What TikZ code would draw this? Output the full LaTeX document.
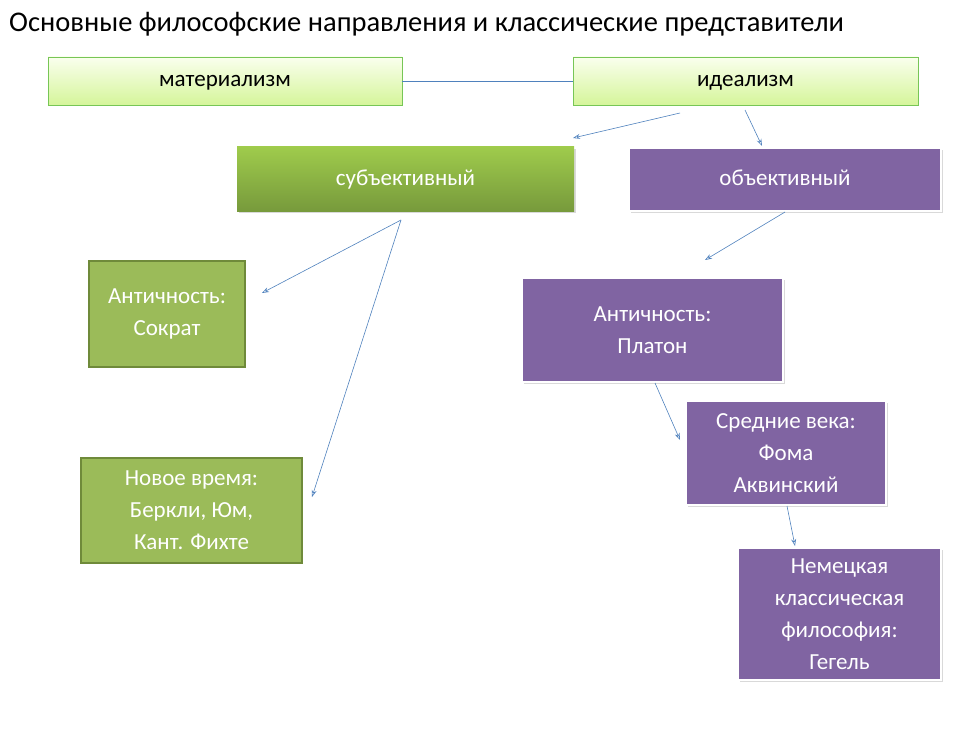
\documentclass[tikz,border=0pt]{standalone}
\usepackage{fontspec}
\setmainfont{Carlito}
\usetikzlibrary{arrows.meta,shadows}
\definecolor{lg1}{HTML}{FAFFEE}\definecolor{lg2}{HTML}{D5F59A}
\definecolor{sg1}{HTML}{9FCB4C}\definecolor{sg2}{HTML}{779A3C}
\definecolor{pur}{HTML}{8064A2}\definecolor{gr}{HTML}{9BBB59}
\definecolor{grb}{HTML}{6F8A3A}\definecolor{arr}{HTML}{4F81BD}
\newcommand{\dn}[1]{\raisebox{-6pt}[0pt][0pt]{#1}}
\begin{document}
\begin{tikzpicture}[x=1pt,y=-1pt,
 every node/.style={font=\fontsize{23}{32}\selectfont,align=center,inner sep=0},
 light/.style={top color=lg1,bottom color=lg2,draw=lg2!70!green!80!black,line width=0.5pt},
 sub/.style={top color=sg1,bottom color=sg2,text=white,drop shadow={shadow xshift=2pt,shadow yshift=-2pt,opacity=0.3}},
 pbox/.style={fill=pur,draw=white,line width=1.5pt,text=white,drop shadow={shadow xshift=2pt,shadow yshift=-2pt,opacity=0.3}},
 gbox/.style={fill=gr,draw=grb,line width=1.5pt,text=white},
 ar/.style={draw=arr,line width=0.6pt,-{Stealth[length=7pt,width=5pt,open]}}]
\useasboundingbox (0,0) rectangle (979,730);
\node[anchor=west,font=\fontsize{28.5}{32}\selectfont] (t) at (9,24) {Основные философские направления и классические представители};
\node[light,minimum width=354,minimum height=48] (m) at (225,81) {\dn{материализм}};
\node[light,minimum width=345,minimum height=48] (i) at (745.5,81) {\dn{идеализм}};
\node[sub,minimum width=337,minimum height=64] (s) at (405.5,179) {\dn{субъективный}};
\node[pbox,minimum width=312,minimum height=63] (o) at (785,179.5) {\dn{объективный}};
\node[gbox,minimum width=156,minimum height=106] (a1) at (167,314) {Античность:\\Сократ};
\node[gbox,minimum width=221,minimum height=105] (n) at (191.5,510.5) {Новое время:\\Беркли, Юм,\\Кант. Фихте};
\node[pbox,minimum width=261,minimum height=104] (a2) at (652.5,330) {Античность:\\Платон};
\node[pbox,minimum width=200,minimum height=104] (sv) at (786,453) {Средние века:\\Фома\\Аквинский};
\node[pbox,minimum width=203,minimum height=132] (nk) at (839.5,614) {Немецкая\\классическая\\философия:\\Гегель};
\coordinate (c1) at (680,113); \coordinate (c1e) at (573,138);
\coordinate (c2) at (745,110); \coordinate (c2e) at (762,146);
\coordinate (c3) at (785,212); \coordinate (c3e) at (705,260);
\coordinate (c4) at (401,220); \coordinate (c4e) at (262,293); \coordinate (c5e) at (312,497);
\coordinate (c6) at (655,383); \coordinate (c6e) at (680,440);
\coordinate (c7) at (787,506); \coordinate (c7e) at (795,546);
\draw[arr,line width=0.6pt] (m.east) -- (i.west);
\draw[ar] (c1) -- (c1e);
\draw[ar] (c2) -- (c2e);
\draw[ar] (c3) -- (c3e);
\draw[ar] (c4) -- (c4e);
\draw[ar] (c4) -- (c5e);
\draw[ar] (c6) -- (c6e);
\draw[ar] (c7) -- (c7e);
\end{tikzpicture}
\end{document}
